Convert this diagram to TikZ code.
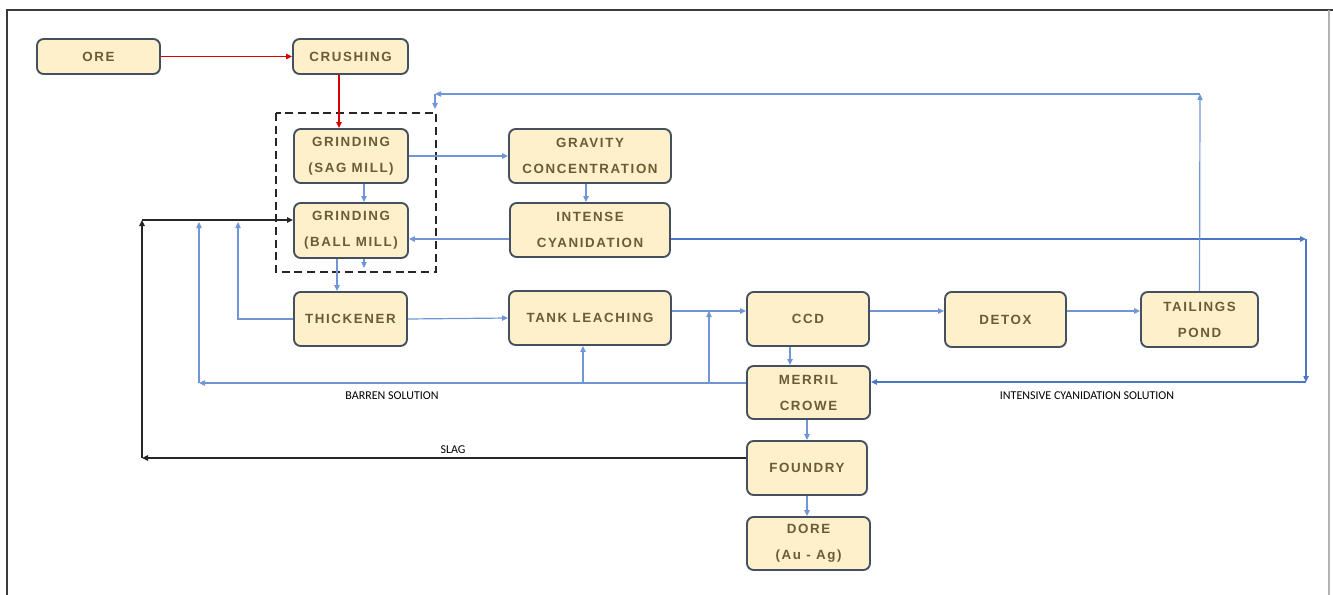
\documentclass[tikz,border=0pt]{standalone}
\usepackage{fontspec}
\setmainfont{Liberation Sans}
\newfontfamily\lblfont{Carlito}
\usetikzlibrary{arrows.meta}
\definecolor{boxfill}{HTML}{FDF0CA}
\definecolor{boxline}{HTML}{44505E}
\definecolor{boxtext}{HTML}{6B5C33}
\definecolor{flow}{HTML}{7096D8}
\definecolor{flowdark}{HTML}{4A76C8}
\definecolor{frameg}{HTML}{3A3A3A}
\tikzset{
  bx/.style={draw=boxline, line width=1.4pt, fill=boxfill, rounded corners=5pt,
    text=boxtext, align=center, inner sep=0pt,
    font=\fontsize{10}{19.5}\selectfont\bfseries\addfontfeatures{LetterSpace=12}},
  tip/.style={-{Triangle[length=4.5pt,width=4pt]}},
  fl/.style={draw=flow, line width=0.9pt},
  fld/.style={draw=flowdark, line width=1pt},
  redl/.style={draw=red!85!black, line width=1pt},
  blk/.style={draw=black!85, line width=1.3pt},
  lbl/.style={font=\lblfont\fontsize{9}{10}\selectfont, text=black, inner sep=0pt},
}
\begin{document}
\begin{tikzpicture}[x=0.75pt,y=-0.75pt]
\useasboundingbox (0,0) rectangle (1333,595);
% frame
\draw[frameg, line width=1.5pt] (7,595) -- (7,10) -- (1333,10);
\draw[black!30, line width=1.2pt] (1329,10) -- (1329,595);

% boxes
\node[bx, minimum width=92.25pt, minimum height=26.25pt] (ore) at (98.5,56.5) {ORE};
\node[bx, minimum width=86.25pt, minimum height=26.25pt] (cr) at (350.5,56.5) {CRUSHING};
\node[bx, minimum width=85.5pt, minimum height=40.5pt] (sag) at (351,156) {GRINDING\\(SAG MILL)};
\node[bx, minimum width=85.5pt, minimum height=41.25pt] (bm) at (351,230.5) {GRINDING\\(BALL MILL)};
\node[bx, minimum width=121.5pt, minimum height=40.5pt] (gc) at (590,156) {GRAVITY\\CONCENTRATION};
\node[bx, minimum width=120pt, minimum height=40.5pt] (ic) at (590,230) {INTENSE\\CYANIDATION};
\node[bx, minimum width=84.75pt, minimum height=40.5pt] (th) at (350.5,319) {THICKENER};
\node[bx, minimum width=121.5pt, minimum height=40.5pt] (tl) at (590,318) {TANK LEACHING};
\node[bx, minimum width=91.5pt, minimum height=40.5pt] (ccd) at (808,319) {CCD};
\node[bx, minimum width=90.75pt, minimum height=41.25pt] (dx) at (1005.5,319.5) {DETOX};
\node[bx, minimum width=87.75pt, minimum height=41.25pt] (tp) at (1199.5,319.5) {TAILINGS\\POND};
\node[bx, minimum width=92.25pt, minimum height=39.75pt] (mc) at (808.5,392.5) {MERRIL\\CROWE};
\node[bx, minimum width=90pt, minimum height=40.5pt] (fd) at (807,468) {FOUNDRY};
\node[bx, minimum width=92.25pt, minimum height=39.75pt] (dore) at (808.5,543.5) {DORE\\(Au - Ag)};

% dashed grinding group
\draw[black!85, line width=1.3pt, dash pattern=on 6pt off 3.5pt] (276,113) rectangle (436,272);

% coordinates
\coordinate (t1) at (1200,94);
\coordinate (t2) at (435,94);
\coordinate (t3) at (435,109);
\coordinate (r1) at (1306,239);
\coordinate (r2) at (1306,382);
\coordinate (b1) at (199,383);
\coordinate (b2) at (199,222);
\coordinate (bt) at (583,383);
\coordinate (bc) at (709,383);
\coordinate (yl) at (0,311);
\coordinate (k1) at (238,319);
\coordinate (k2) at (238,222);
\coordinate (s1) at (142,458);
\coordinate (s2) at (142,220);
\coordinate (xg) at (586,0);
\coordinate (xs) at (364,0);
\coordinate (xm) at (364,268);
\coordinate (xb) at (337,0);
\coordinate (xc) at (339,0);
\coordinate (xd) at (790,0);
\coordinate (xf) at (807,0);

% red flow
\draw[redl, tip] (ore.east) -- (cr.west);
\draw[redl, tip] (xc |- cr.south) -- (xc |- sag.north);

% grinding circuit
\draw[fl, tip] (xs |- sag.south) -- (xs |- bm.north);
\draw[fl, tip] (xs |- bm.south) -- (xm);
\draw[fl, tip] (xb |- bm.south) -- (xb |- th.north);
\draw[fl, tip] (sag.east) -- (gc.west);
\draw[fl, tip] (xg |- gc.south) -- (xg |- ic.north);
\draw[fl, tip] (r1 -| ic.west) -- (r1 -| bm.east);

% intense cyanidation solution
\draw[fld, tip] (r1 -| ic.east) -- (r1);
\draw[fld, tip] (r1) -- (r2);
\draw[fld, tip] (r2) -- (r2 -| mc.east);

% tailings return
\draw[fl, tip] (tp.north) -- (t1);
\draw[fl, tip] (t1) -- (t2);
\draw[fl, tip] (t2) -- (t3);

% main line
\draw[fl, tip] (th.east) -- (tl.west);
\draw[fl, tip] (yl -| tl.east) -- (yl -| ccd.west);
\draw[fl, tip] (yl -| ccd.east) -- (yl -| dx.west);
\draw[fl, tip] (yl -| dx.east) -- (yl -| tp.west);
\draw[fl, tip] (th.west) -- (k1) -- (k2);

% barren solution
\draw[fl, tip] (b1 -| mc.west) -- (b1);
\draw[fl, tip] (b1) -- (b2);
\draw[fl, tip] (bt) -- (bt |- tl.south);
\draw[fl, tip] (bc) -- (bc |- yl);

% refining
\draw[fl, tip] (xd |- ccd.south) -- (xd |- mc.north);
\draw[fl, tip] (xf |- mc.south) -- (xf |- fd.north);
\draw[fl, tip] (xf |- fd.south) -- (xf |- dore.north);

% slag
\draw[blk, tip] (s1 -| fd.west) -- (s1);
\draw[blk, tip] (s1) -- (s2);
\draw[blk, tip] (s2) -- (s2 -| bm.west);

% labels
\node[lbl] (lb1) at (392,395.5) {BARREN SOLUTION};
\node[lbl] (lb2) at (1087,395.5) {INTENSIVE CYANIDATION SOLUTION};
\node[lbl] (lb3) at (453,450) {SLAG};
\end{tikzpicture}
\end{document}
